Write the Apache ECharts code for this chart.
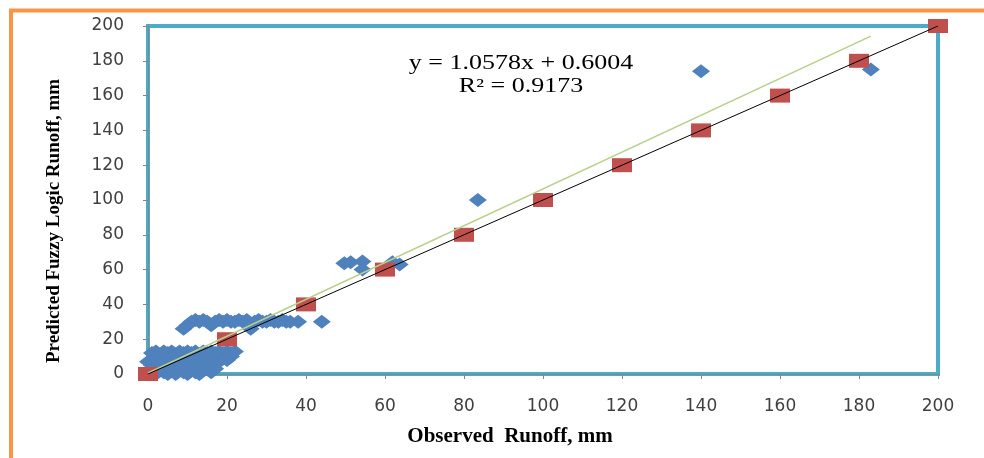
<!DOCTYPE html>
<html>
<head>
<meta charset="utf-8">
<script src="https://cdn.jsdelivr.net/npm/echarts@6/dist/echarts.min.js"></script>
<style>
  html, body { margin: 0; padding: 0; background: #fff; }
  #chart { width: 984px; height: 458px; }
</style>
</head>
<body>
<div id="chart"></div>
<script>
// observed vs predicted runoff (blue diamonds)
const obsX = [
    0, 1, 2, 3, 4, 5, 6, 7, 8, 9, 10, 11, 12, 13, 14, 15, 16, 17,
    0, 1, 2, 3, 4, 5, 6, 7, 8, 9, 10, 11, 12, 13, 14, 15, 16, 17, 18, 19, 20, 21,
    1, 2, 3, 4, 5, 6, 7, 8, 9, 10, 11, 12, 13, 14, 15, 16, 17, 18, 19, 20, 21, 22,
    9, 10, 11, 12, 13, 14, 15, 16, 17, 18, 19, 20, 21, 22, 23, 24, 25, 26, 27, 28,
    29, 30, 31, 32, 33, 34, 35, 36, 38, 44,
    49.7, 51.3, 54.3, 54.3, 61.9, 63.7, 83.5, 140, 183
];
const predY = [
    0, 2, 0, 3, 1, 0, 2, 0, 4, 1, 0, 3, 1, 0, 2, 4, 1, 3,
    7, 5, 9, 6, 8, 5, 10, 7, 9, 6, 8, 5, 10, 7, 9, 6, 8, 10, 7, 9, 8, 10,
    12, 13, 11, 13, 12, 13, 11, 13, 12, 13, 12, 13, 11, 13, 12, 13, 12, 13, 12, 13, 12, 13,
    26, 28, 30, 31, 30, 31, 30, 28, 30, 31, 30, 31, 30, 30, 31, 30, 31, 26, 30, 31,
    30, 30, 31, 30, 30, 31, 30, 30, 30, 30,
    63.6, 64.2, 64.7, 60.1, 64.2, 63, 100, 174, 175
];

// 1:1 reference points (red squares)
const refX = [0, 20, 40, 60, 80, 100, 120, 140, 160, 180, 200];
const refY = [0, 20, 40, 60, 80, 100, 120, 140, 160, 180, 200];

// line of perfect agreement and fitted trend line
const perfectX = [0, 200];
const perfectY = [0, 200];
const trendX = [0, 183];
const trendY = [0.6, 194.2];

const zip = (xs, ys) => xs.map((x, i) => [x, ys[i]]);

const chart = echarts.init(document.getElementById('chart'));

const labelStyle = {
    fontFamily: 'DejaVu Sans',
    fontSize: 17,
    color: '#404040'
};

const option = {
    animation: false,
    grid: {
        left: 148,
        right: 46,
        top: 26,
        bottom: 84,
        show: true,
        borderColor: '#4bacc6',
        borderWidth: 4,
        backgroundColor: '#fff'
    },
    xAxis: {
        type: 'value',
        min: 0,
        max: 200,
        interval: 20,
        name: 'Observed  Runoff, mm',
        nameLocation: 'middle',
        nameGap: 52,
        nameTextStyle: {
            fontFamily: 'Liberation Serif',
            fontWeight: 'bold',
            fontSize: 21,
            color: '#000',
            padding: [0, 66, 0, 0]
        },
        axisLine: { show: true, lineStyle: { color: '#868686' } },
        axisTick: { show: true, length: 5, lineStyle: { color: '#868686' } },
        axisLabel: Object.assign({ margin: 24 }, labelStyle),
        splitLine: { show: false }
    },
    yAxis: {
        type: 'value',
        min: 0,
        max: 200,
        interval: 20,
        name: 'Predicted Fuzzy Logic Runoff, mm',
        nameLocation: 'middle',
        nameGap: 84,
        nameTextStyle: {
            fontFamily: 'Liberation Serif',
            fontWeight: 'bold',
            fontSize: 19,
            color: '#000',
            padding: [0, 42, 0, 0]
        },
        axisLine: { show: true, lineStyle: { color: '#868686' } },
        axisTick: { show: true, length: 5, lineStyle: { color: '#868686' } },
        axisLabel: Object.assign({ margin: 24 }, labelStyle),
        splitLine: { show: false }
    },
    graphic: [
        {
            // outer orange frame
            type: 'rect',
            shape: { x: 11, y: 10.5, width: 1000, height: 500 },
            style: { fill: 'none', stroke: '#f79646', lineWidth: 4 },
            silent: true
        },
        {
            type: 'text',
            x: 521,
            y: 64,
            scaleX: 1.3,
            style: {
                text: 'y = 1.0578x + 0.6004',
                font: '20px "Liberation Serif"',
                fill: '#000',
                textAlign: 'center',
                textVerticalAlign: 'middle'
            },
            z: 10
        },
        {
            type: 'text',
            x: 521,
            y: 87,
            scaleX: 1.3,
            style: {
                text: 'R² = 0.9173',
                font: '20px "Liberation Serif"',
                fill: '#000',
                textAlign: 'center',
                textVerticalAlign: 'middle'
            },
            z: 10
        }
    ],
    series: [
        {
            type: 'scatter',
            name: 'Predicted',
            symbol: 'diamond',
            symbolSize: [18, 14],
            itemStyle: { color: '#4f81bd', opacity: 1 },
            data: zip(obsX, predY),
            z: 2
        },
        {
            type: 'scatter',
            name: 'Reference',
            symbol: 'rect',
            symbolSize: [20, 14],
            itemStyle: { color: '#c0504d', opacity: 1 },
            data: zip(refX, refY),
            z: 3
        },
        {
            type: 'line',
            name: 'Linear (Predicted)',
            showSymbol: false,
            lineStyle: { color: '#b8cf8a', width: 1.5 },
            data: zip(trendX, trendY),
            z: 4
        },
        {
            type: 'line',
            name: '1:1',
            showSymbol: false,
            lineStyle: { color: '#000', width: 1 },
            data: zip(perfectX, perfectY),
            z: 5
        }
    ]
};

chart.setOption(option);
</script>
</body>
</html>
